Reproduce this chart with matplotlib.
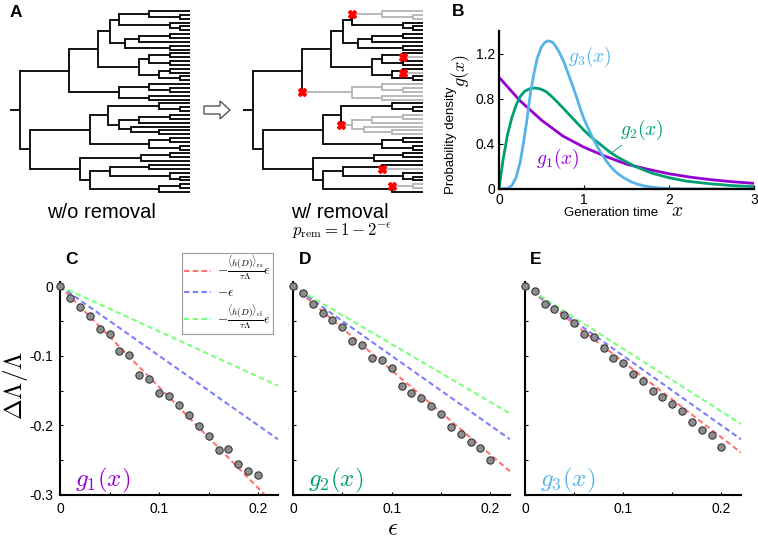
import matplotlib
matplotlib.use("Agg")
import matplotlib.pyplot as plt
from matplotlib.patches import FancyArrow

plt.rcParams["font.family"] = ["Liberation Sans", "DejaVu Sans"]
plt.rcParams["mathtext.fontset"] = "cm"

# ---- panel A: genealogy tree (split time, upper child, lower child); None = leaf
P0 = (0.76, None, (0.94, None, None))
P1 = (0.88, None, (0.94, None, None))
Q = (0.62, (0.70, (0.88, None, None), None), (0.88, None, None))
U1B = (0.70, (0.76, (0.88, None, None), (0.88, None, None)),
       (0.82, (0.88, None, None), (0.94, None, None)))
U1 = (0.46, (0.53, (0.58, P0, P1), Q), U1B)
U2 = (0.58, (0.76, None, (0.88, None, None)), (0.76, None, None))
L1A = (0.52, (0.82, None, (0.94, None, None)),
       (0.58, (0.70, (0.88, None, None), None), (0.65, None, (0.82, None, None))))
L1 = (0.41, L1A, (0.76, (0.88, None, None), (0.94, None, None)))
L2B = (0.41, (0.53, (0.76, None, None), (0.88, None, (0.94, None, None))),
       (0.82, (0.94, None, None), None))
L2 = (0.35, (0.71, (0.88, None, None), None), L2B)
TREE = (0.0, (0.29, U1, U2), (0.06, L1, L2))
N_LEAVES = 48
# branches cut in the right-hand tree (path of 0=upper / 1=lower choices from the root)
REMOVED = ["00000", "001001", "001101", "01", "1001", "111001", "11110"]

# ---- panel B: generation time densities
G1_X = [0, 0.25, 0.5, 0.75, 1.0, 1.25, 1.5, 1.75, 2.0, 2.25, 2.5, 2.75, 3.0]
G1_Y = [0.99, 0.78, 0.61, 0.47, 0.37, 0.29, 0.22, 0.175, 0.135, 0.105, 0.082, 0.064, 0.05]
G2_X = [0, 0.02, 0.05, 0.1, 0.15, 0.2, 0.25, 0.3, 0.36, 0.42, 0.48, 0.55, 0.62, 0.7, 0.8, 0.9,
        1.0, 1.1, 1.2, 1.3, 1.4, 1.5, 1.6, 1.8, 2.0, 2.2, 2.5, 2.75, 3.0]
G2_Y = [0, 0.11, 0.27, 0.48, 0.63, 0.74, 0.82, 0.865, 0.888, 0.895, 0.888, 0.865, 0.82, 0.76,
        0.68, 0.60, 0.52, 0.45, 0.39, 0.33, 0.28, 0.24, 0.20, 0.14, 0.10, 0.07, 0.045, 0.03, 0.02]
G3_X = [0, 0.1, 0.15, 0.2, 0.25, 0.29, 0.33, 0.37, 0.41, 0.45, 0.5, 0.54, 0.584, 0.63, 0.663,
        0.71, 0.761, 0.81, 0.859, 0.91, 0.957, 1.0, 1.055, 1.1, 1.153, 1.2, 1.251, 1.3, 1.349,
        1.4, 1.467, 1.55, 1.624, 1.7, 1.78, 1.9, 2.02, 2.3, 3.0]
G3_Y = [0, 0.005, 0.03, 0.10, 0.24, 0.42, 0.62, 0.85, 1.02, 1.16, 1.26, 1.30, 1.313, 1.30, 1.27,
        1.21, 1.13, 1.03, 0.93, 0.82, 0.71, 0.62, 0.53, 0.455, 0.38, 0.32, 0.26, 0.21, 0.17,
        0.135, 0.10, 0.065, 0.044, 0.028, 0.018, 0.008, 0.003, 0.0005, 0]

# ---- panels C-E: relative change of population growth rate
EPS = [0, 0.01, 0.02, 0.03, 0.04, 0.05, 0.06, 0.07, 0.08, 0.09, 0.10,
       0.11, 0.12, 0.13, 0.14, 0.15, 0.16, 0.17, 0.18, 0.19, 0.20]
DL_G1 = [0, -0.017, -0.030, -0.043, -0.062, -0.069, -0.093, -0.0995, -0.128, -0.134, -0.153,
         -0.158, -0.171, -0.185, -0.201, -0.215, -0.235, -0.234, -0.255, -0.266, -0.271]
DL_G2 = [0, -0.0105, -0.025, -0.039, -0.049, -0.059, -0.079, -0.085, -0.103, -0.106, -0.118,
         -0.143, -0.154, -0.161, -0.172, -0.184, -0.202, -0.213, -0.224, -0.233, -0.250]
DL_G3 = [0, -0.007, -0.025, -0.0325, -0.041, -0.053, -0.068, -0.073, -0.0885, -0.103, -0.1105,
         -0.126, -0.136, -0.151, -0.159, -0.169, -0.180, -0.195, -0.207, -0.214, -0.231]
LINE_X = [0, 0.22]
# theory lines (rs, -eps, cl) for each panel, values at LINE_X
THEORY = {
    "g1": ([0, -0.319], [0, -0.22], [0, -0.143]),
    "g2": ([0, -0.266], [0, -0.22], [0, -0.183]),
    "g3": ([0, -0.239], [0, -0.22], [0, -0.198]),
}

PURPLE = "#9400d3"
GREEN = "#009e73"
SKY = "#56b4e9"
TREE_GRAY = "#b4b4b4"

W, H = 758, 539
fig = plt.figure(figsize=(W / 100, H / 100), dpi=100)


def px_axes(x0, y0, x1, y1):
    return fig.add_axes([x0 / W, 1 - y1 / H, (x1 - x0) / W, (y1 - y0) / H])


def px_text(x, y, s, **kw):
    kw.setdefault("ha", "center")
    kw.setdefault("va", "center")
    return fig.text(x / W, 1 - y / H, s, **kw)


def draw_tree(ax, node, t_parent, path, gray, leaves, cut, marks):
    cut_here = cut and path in REMOVED
    if cut_here:
        gray = True
    color = TREE_GRAY if gray else "black"
    z = 1 if gray else 2
    if node is None:
        t = 1.0
        y = next(leaves)
    else:
        t, upper, lower = node
        ya = draw_tree(ax, upper, t, path + "0", gray, leaves, cut, marks)
        yb = draw_tree(ax, lower, t, path + "1", gray, leaves, cut, marks)
        y = (ya + yb) / 2
        ax.plot([t, t], [ya, yb], color=color, lw=1.3, zorder=z,
                solid_capstyle="projecting", clip_on=False)
    ax.plot([t_parent, t], [y, y], color=color, lw=1.3, zorder=z,
            solid_capstyle="butt", clip_on=False)
    if cut_here:
        marks.append((t_parent, y))
    return y


def tree_panel(x0, cut):
    ax = px_axes(x0, 11, x0 + 180, 192)
    marks = []
    draw_tree(ax, TREE, -0.06, "", False, iter(range(N_LEAVES)), cut, marks)
    for mx, my in marks:
        ax.plot(mx, my, "X", color="red", ms=5.5, mec="red", zorder=5, clip_on=False)
    ax.set_xlim(-0.06, 1.0)
    ax.set_ylim(N_LEAVES - 1, 0)
    ax.axis("off")


tree_panel(10, False)
tree_panel(243, True)

px_text(101, 212, "w/o removal", fontsize=14.5)
px_text(340, 212, "w/ removal", fontsize=14.5)
px_text(342, 231, r"$p_{\rm rem}=1-2^{-\epsilon}$", fontsize=12)

over = fig.add_axes([0, 0, 1, 1])
over.set_xlim(0, W)
over.set_ylim(H, 0)
over.axis("off")
over.add_patch(FancyArrow(204, 110, 26, 0, width=8, head_width=18, head_length=10,
                          length_includes_head=True, fc="white", ec="#555555", lw=1.0))

# ---- panel B
axB = px_axes(499, 31, 754, 189)
axB.plot(G1_X, G1_Y, color=PURPLE, lw=2.0)
axB.plot(G2_X, G2_Y, color=GREEN, lw=2.0)
axB.plot(G3_X, G3_Y, color=SKY, lw=2.0)
axB.set_xlim(0, 3)
axB.set_ylim(0, 1.4)
axB.set_xticks([0, 1, 2, 3])
axB.set_xticklabels(["0", "1", "2", "3"])
axB.set_yticks([0, 0.4, 0.8, 1.2])
axB.set_yticklabels(["0", "0.4", "0.8", "1.2"])
axB.tick_params(direction="in", length=3, width=0.8, labelsize=10, pad=3)
for side in ("top", "right"):
    axB.spines[side].set_visible(False)
for side in ("left", "bottom"):
    axB.spines[side].set_linewidth(1.6)
axB.text(1.07, 1.17, r"$g_3(x)$", color=SKY, fontsize=14, ha="center", va="center")
axB.text(0.69, 0.27, r"$g_1(x)$", color=PURPLE, fontsize=14, ha="center", va="center")
axB.annotate(r"$g_2(x)$", xy=(1.34, 0.33), xytext=(1.68, 0.52), color=GREEN, fontsize=14,
             ha="center", va="center",
             arrowprops=dict(arrowstyle="-", color=GREEN, lw=0.6, shrinkA=9, shrinkB=0))
px_text(611, 213, "Generation time", fontsize=9.5)
px_text(677, 211, r"$x$", fontsize=14)
px_text(451, 140, "Probability density", fontsize=9.5, rotation=90)
px_text(461, 70, r"$g(x)$", fontsize=13, rotation=90)

# ---- panels C, D, E
panels = [
    ((60, 278), DL_G1, "g1", PURPLE, r"$g_1(x)$", True),
    ((293, 510), DL_G2, "g2", GREEN, r"$g_2(x)$", False),
    ((525, 741), DL_G3, "g3", SKY, r"$g_3(x)$", False),
]
legend_handles = None
for (x0, x1), values, key, color, name, first in panels:
    ax = px_axes(x0, 282, x1, 495)
    rs, eq, cl = THEORY[key]
    dash = (0, (2.6, 1.6))
    h_rs, = ax.plot(LINE_X, rs, color="#ff7373", lw=1.5, ls=dash, zorder=2)
    h_eq, = ax.plot(LINE_X, eq, color="#7d7dff", lw=1.5, ls=dash, zorder=2)
    h_cl, = ax.plot(LINE_X, cl, color="#7dff7d", lw=1.5, ls=dash, zorder=2)
    ax.plot(EPS, values, "o", ms=5.3, mfc="#8c8c8c", mec="#2a2a2a", mew=0.7,
            zorder=3, clip_on=False)
    ax.set_xlim(0, 0.22)
    ax.set_ylim(-0.3, 0.006)
    ax.set_xticks([0, 0.05, 0.1, 0.15, 0.2])
    ax.set_xticklabels(["0", "", "0.1", "", "0.2"])
    ax.set_yticks([0, -0.05, -0.1, -0.15, -0.2, -0.25, -0.3])
    if first:
        ax.set_yticklabels(["0", "", "-0.1", "", "-0.2", "", "-0.3"])
        legend_handles = (h_rs, h_eq, h_cl)
    else:
        ax.set_yticklabels([])
    ax.tick_params(direction="in", length=2.5, width=0.8, labelsize=10, pad=5)
    for side in ("top", "right"):
        ax.spines[side].set_visible(False)
    for side in ("left", "bottom"):
        ax.spines[side].set_linewidth(1.5)
    ax.text(0.07, 0.07, name, transform=ax.transAxes, color=color, fontsize=18,
            ha="left", va="center")

leg = fig.legend(
    legend_handles,
    [r"$-\frac{\langle h(D)\rangle_{\rm rs}}{\tau\Lambda}\epsilon$",
     r"$-\epsilon$",
     r"$-\frac{\langle h(D)\rangle_{\rm cl}}{\tau\Lambda}\epsilon$"],
    loc="upper right", bbox_to_anchor=(273 / W, 1 - 253 / H), fontsize=9.5,
    frameon=True, fancybox=False, framealpha=1, edgecolor="#9a9a9a",
    handlelength=2.0, labelspacing=0.3, borderpad=0.15, handletextpad=0.5,
    borderaxespad=0,
)
leg.get_frame().set_linewidth(0.8)

px_text(15, 385, r"$\Delta\Lambda/\Lambda$", fontsize=18, rotation=90)
px_text(393, 528, r"$\epsilon$", fontsize=18)

for letter, x, y in [("A", 10, 5), ("B", 452, 4), ("C", 65, 252), ("D", 299, 252), ("E", 530, 252)]:
    px_text(x, y, letter, fontsize=12.5, fontweight="bold", ha="left", va="top")

fig.savefig("out.png", dpi=100)
